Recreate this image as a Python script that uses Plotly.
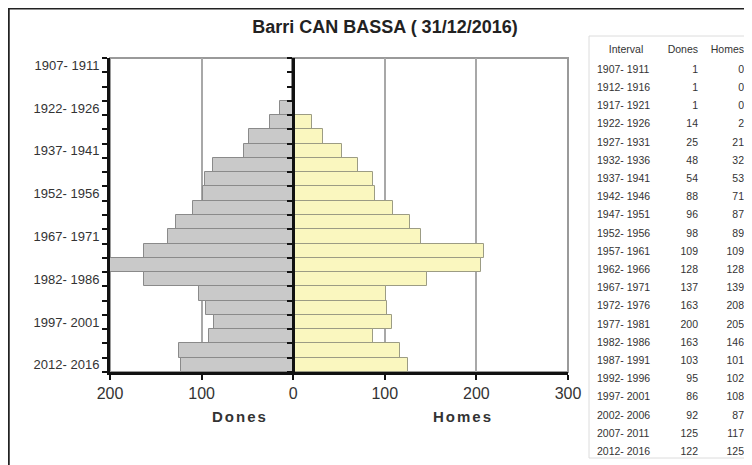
import plotly.graph_objects as go

intervals = ["1907- 1911", "1912- 1916", "1917- 1921", "1922- 1926", "1927- 1931",
             "1932- 1936", "1937- 1941", "1942- 1946", "1947- 1951", "1952- 1956",
             "1957- 1961", "1962- 1966", "1967- 1971", "1972- 1976", "1977- 1981",
             "1982- 1986", "1987- 1991", "1992- 1996", "1997- 2001", "2002- 2006",
             "2007- 2011", "2012- 2016"]
dones = [1, 1, 1, 14, 25, 48, 54, 88, 96, 98, 109, 128, 137, 163, 200,
         163, 103, 95, 86, 92, 125, 122]
homes = [0, 0, 0, 2, 21, 32, 53, 71, 87, 89, 109, 128, 139, 208, 205,
         146, 101, 102, 108, 87, 117, 125]
x_ticks = [-200, -100, 0, 100, 200, 300]
x_labels = ["200", "100", "0", "100", "200", "300"]

FONT = "Liberation Sans, Arial, sans-serif"
# the page body has an 8px margin, so the figure is a bit smaller than the window
OFF = 8
W, H = 752 - OFF, 465 - OFF


def fx(px):
    return (px - OFF) / W


def fy(py):
    return 1 - (py - OFF) / H


idx = list(range(len(intervals)))
label_idx = idx[::3]
bounds = [i - 0.5 for i in idx] + [idx[-1] + 0.5]

# plot area in window pixels
xdom = [fx(110), fx(568)]
ydom = [fy(372), fy(58)]
zero_pos = xdom[0] + (0 - x_ticks[0]) / (x_ticks[-1] - x_ticks[0]) * (xdom[1] - xdom[0])

fig = go.Figure()
fig.add_trace(go.Bar(
    y=idx, x=[-v for v in dones], orientation="h", name="Dones",
    customdata=dones, hovertemplate="%{customdata}<extra>Dones</extra>",
    marker=dict(color="#c9c9c9", line=dict(color="#8a8a8a", width=1)),
))
fig.add_trace(go.Bar(
    y=idx, x=homes, orientation="h", name="Homes", yaxis="y2",
    hovertemplate="%{x}<extra>Homes</extra>",
    marker=dict(color="#faf7bf", line=dict(color="#9c9c84", width=1)),
))

# table on the right
fig.add_trace(go.Table(
    domain=dict(x=[fx(589), 1.0], y=[fy(460), fy(37)]),
    columnwidth=[74, 43, 46],
    header=dict(values=["Interval", "Dones", "Homes"],
                align=["center", "right", "right"],
                font=dict(family=FONT, size=10.5, color="#333"),
                fill_color="white", line_color="white", height=20),
    cells=dict(values=[intervals, dones, homes],
               align=["left", "right", "right"],
               font=dict(family=FONT, size=10.5, color="#333"),
               fill_color="white", line_color="white", height=18.2),
))

fig.update_layout(
    width=W, height=H,
    margin=dict(l=0, r=0, t=0, b=0),
    paper_bgcolor="white", plot_bgcolor="white",
    showlegend=False,
    barmode="overlay", bargap=0,
    font=dict(family=FONT, color="#333"),
    title=dict(text="<b>Barri CAN BASSA ( 31/12/2016)</b>", x=fx(385), xanchor="center",
               y=fy(27), yanchor="middle",
               font=dict(family=FONT, size=18, color="#222")),
    xaxis=dict(domain=xdom, range=[x_ticks[0], x_ticks[-1]], tickmode="array",
               tickvals=x_ticks, ticktext=x_labels, showgrid=True,
               gridcolor="#a8a8a8", gridwidth=2, zeroline=False,
               showline=True, linecolor="#111", linewidth=3,
               ticks="outside", ticklen=5, tickwidth=2, tickcolor="#111",
               tickfont=dict(size=16, color="#333"), automargin=False),
    yaxis=dict(domain=ydom, range=[idx[-1] + 0.5, -0.5], tickmode="array",
               tickvals=label_idx, ticktext=[intervals[i] for i in label_idx],
               ticks="outside", ticklen=5, tickcolor="rgba(0,0,0,0)",
               minor=dict(tickmode="array", tickvals=bounds, ticks="outside",
                          ticklen=5, tickwidth=2, tickcolor="#111", showgrid=False),
               showgrid=False, zeroline=False, showline=True,
               linecolor="#111", linewidth=3,
               tickfont=dict(size=13, color="#333"), automargin=False),
    yaxis2=dict(overlaying="y", anchor="free", position=zero_pos, side="left",
                range=[idx[-1] + 0.5, -0.5], tickmode="array", tickvals=bounds,
                showticklabels=False, ticks="outside", ticklen=5, tickwidth=2,
                tickcolor="#111", showgrid=False, zeroline=False,
                showline=True, linecolor="#111", linewidth=3, automargin=False),
    annotations=[
        dict(text='<span style="letter-spacing:2px"><b>Dones</b></span>',
             xref="paper", yref="paper", x=fx(210), y=fy(427),
             showarrow=False, font=dict(family=FONT, size=15, color="#333")),
        dict(text='<span style="letter-spacing:2px"><b>Homes</b></span>',
             xref="paper", yref="paper", x=fx(463), y=fy(427),
             showarrow=False, font=dict(family=FONT, size=15, color="#333")),
    ],
    shapes=[
        # plot frame (top / right in grey)
        dict(type="rect", xref="x domain", yref="y domain", x0=0, x1=1, y0=0, y1=1,
             line=dict(color="#9a9a9a", width=2), layer="below"),
        # outer border of the picture
        dict(type="rect", xref="paper", yref="paper", x0=0.001, x1=1.02,
             y0=-0.02, y1=0.999, line=dict(color="#222", width=2)),
        # faint box around the table
        dict(type="rect", xref="paper", yref="paper", x0=fx(589), x1=1.01,
             y0=fy(458), y1=fy(36), line=dict(color="#dcdcdc", width=1)),
    ],
)

fig.write_html("out.html")
